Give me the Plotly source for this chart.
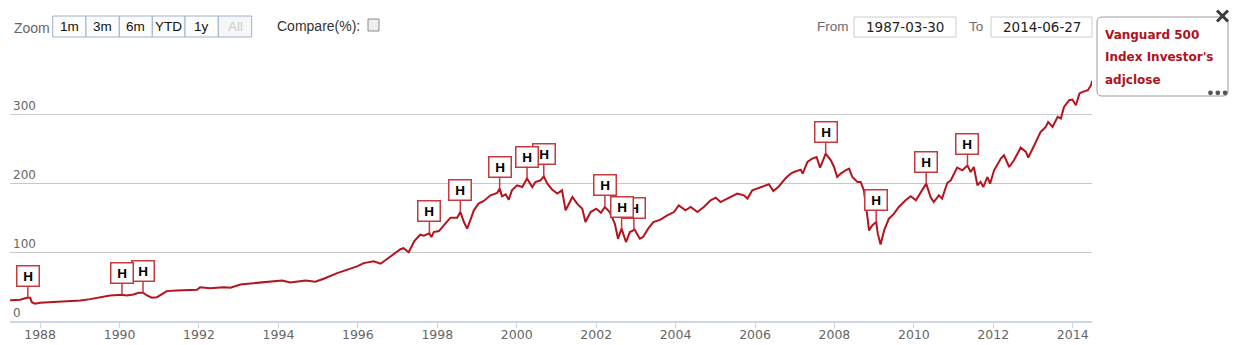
import numpy as np
import pandas as pd
import plotly.graph_objects as go

# Vanguard 500 Index Investor's adjusted close, sampled as decimal years
years = [
    1987.245, 1987.50, 1987.66, 1987.75, 1987.79, 1987.87, 1988.00, 1988.25, 1988.50, 1988.76,
    1989.01, 1989.26, 1989.51, 1989.76, 1990.06, 1990.18, 1990.35, 1990.48, 1990.59, 1990.69,
    1990.81, 1990.94, 1991.11, 1991.19, 1991.44, 1991.70, 1991.95, 1992.03, 1992.28, 1992.62,
    1992.79, 1993.04, 1993.46, 1993.80, 1994.09, 1994.30, 1994.47, 1994.68, 1994.93, 1995.14,
    1995.48, 1995.73, 1995.98, 1996.15, 1996.40, 1996.57, 1996.65, 1996.82, 1996.94, 1997.07,
    1997.15, 1997.28, 1997.42, 1997.57, 1997.66, 1997.80, 1997.85, 1997.91, 1998.04, 1998.16,
    1998.33, 1998.50, 1998.58, 1998.67, 1998.75, 1998.83, 1998.92, 1999.04, 1999.17, 1999.34,
    1999.51, 1999.57, 1999.63, 1999.72, 1999.80, 1999.88, 2000.01, 2000.14, 2000.26, 2000.39,
    2000.47, 2000.60, 2000.68, 2000.77, 2000.89, 2001.02, 2001.14, 2001.23, 2001.40, 2001.52,
    2001.65, 2001.73, 2001.86, 2002.00, 2002.12, 2002.22, 2002.34, 2002.47, 2002.55, 2002.64,
    2002.75, 2002.85, 2002.97, 2003.10, 2003.18, 2003.31, 2003.44, 2003.62, 2003.79, 2003.96,
    2004.08, 2004.25, 2004.38, 2004.55, 2004.71, 2004.88, 2005.01, 2005.13, 2005.30, 2005.55,
    2005.72, 2005.81, 2005.93, 2006.14, 2006.35, 2006.46, 2006.60, 2006.77, 2006.90, 2006.98,
    2007.15, 2007.20, 2007.32, 2007.44, 2007.55, 2007.64, 2007.78, 2007.91, 2007.99, 2008.07,
    2008.16, 2008.28, 2008.37, 2008.45, 2008.58, 2008.66, 2008.74, 2008.83, 2008.87, 2008.95,
    2009.05, 2009.09, 2009.16, 2009.25, 2009.37, 2009.50, 2009.62, 2009.79, 2009.92, 2010.05,
    2010.17, 2010.31, 2010.42, 2010.50, 2010.63, 2010.71, 2010.84, 2010.93, 2011.09, 2011.22,
    2011.35, 2011.43, 2011.51, 2011.60, 2011.68, 2011.75, 2011.85, 2011.92, 2012.02, 2012.19,
    2012.27, 2012.40, 2012.52, 2012.69, 2012.82, 2012.88, 2013.03, 2013.19, 2013.32, 2013.38,
    2013.49, 2013.62, 2013.70, 2013.78, 2013.91, 2013.99, 2014.08, 2014.17, 2014.25, 2014.38,
    2014.46, 2014.487,
]
adjclose = [
    30.0, 30.8, 33.7, 33.7, 27.3, 25.0, 26.4, 27.3, 28.3, 28.8,
    29.8, 31.7, 34.5, 37.0, 38.0, 37.0, 38.5, 41.0, 41.0, 37.0,
    33.7, 34.5, 40.4, 43.3, 44.3, 45.3, 45.2, 49.0, 47.6, 49.0,
    48.2, 53.0, 54.9, 56.9, 58.8, 55.9, 56.9, 58.8, 56.9, 61.2,
    69.4, 74.3, 79.1, 83.9, 86.4, 83.0, 86.4, 92.6, 98.4, 104.0,
    105.5, 99.6, 116.0, 125.0, 123.5, 127.0, 121.6, 128.9, 130.3, 138.6,
    149.8, 149.8, 157.9, 143.4, 133.8, 145.9, 160.4, 170.1, 173.9, 182.1,
    185.5, 191.9, 180.7, 183.6, 175.9, 189.4, 196.7, 194.2, 206.4, 194.2,
    201.5, 203.9, 209.7, 199.1, 190.4, 184.6, 189.4, 160.4, 179.7, 170.1,
    162.8, 143.4, 157.9, 162.8, 157.0, 165.2, 157.9, 141.1, 119.3, 133.8,
    114.4, 128.9, 132.4, 119.3, 121.6, 133.8, 143.4, 146.9, 153.1, 157.9,
    167.6, 160.4, 165.2, 157.9, 165.2, 174.9, 178.8, 172.4, 177.4, 184.6,
    182.1, 177.4, 189.4, 194.2, 198.1, 188.4, 195.0, 207.0, 213.6, 216.0,
    219.4, 213.6, 230.5, 235.4, 237.7, 222.3, 242.7, 232.9, 223.2, 208.7,
    213.6, 218.4, 220.9, 208.7, 201.5, 201.5, 189.4, 150.7, 131.3, 138.6,
    143.4, 126.6, 111.0, 131.3, 148.3, 155.6, 165.2, 174.9, 180.7, 174.9,
    186.9, 199.1, 179.7, 172.4, 182.1, 177.4, 200.0, 203.9, 222.3, 218.4,
    225.3, 216.0, 223.2, 196.7, 201.5, 194.2, 208.7, 199.1, 218.4, 235.4,
    240.2, 223.2, 232.9, 251.4, 245.0, 236.9, 254.7, 274.0, 281.3, 288.5,
    281.3, 295.8, 293.5, 310.3, 320.0, 321.0, 312.8, 329.8, 332.1, 334.5,
    341.8, 348.0,
]

# event flags (decimal years)
flag_years = [1987.69, 1990.06, 1990.59, 1997.80, 1998.58, 1999.57, 2000.26, 2000.68,
              2002.22, 2002.64, 2002.95, 2007.78, 2009.05, 2010.31, 2011.35]
flag_label = "H"

y_ticks = [0, 100, 200, 300, 400]
y_ticktext = ["0", "100", "200", "300", ""]
zoom_buttons = ["1m", "3m", "6m", "YTD", "1y", "All"]
date_from = "1987-03-30"
date_to = "2014-06-27"
series_name = ["Vanguard 500", "Index Investor's", "adjclose"]

LINE = "#b3141d"
FLAG = "#c53a40"
GRID = "#c8c8c8"
AXIS = "#ccd6eb"
LABEL = "#666666"
SANS = "DejaVu Sans, Verdana, sans-serif"
ARIAL = "Liberation Sans, Arial, sans-serif"

W, H = 1234, 345
ML, MR, MT, MB = 10, 142, 45, 24
PW, PH = W - ML - MR, H - MT - MB


def to_date(y):
    yr = int(y)
    start = pd.Timestamp(yr, 1, 1)
    end = pd.Timestamp(yr + 1, 1, 1)
    return start + (end - start) * (y - yr)


def PX(px):
    return (px - ML) / PW


def PY(py):
    return (H - MB - py) / PH


dates = [to_date(y) for y in years]
flag_dates = [to_date(y) for y in flag_years]
date_ns = pd.DatetimeIndex(dates).asi8


def value_at(d):
    # anchor each flag onto the drawn line
    return float(np.interp(d.value, date_ns, adjclose))


fig = go.Figure()
fig.add_trace(go.Scatter(x=dates, y=adjclose, mode="lines",
                         line=dict(color=LINE, width=2), name=" ".join(series_name),
                         hoverinfo="x+y"))

annotations = []
# flags: earlier flags drawn on top of later ones
for d in reversed(flag_dates):
    annotations.append(dict(
        x=d, y=value_at(d), xref="x", yref="y", text="<b>%s</b>" % flag_label,
        showarrow=True, arrowhead=0, arrowwidth=1.5, arrowcolor=FLAG, standoff=0,
        ax=0, ay=-22, bgcolor="white", bordercolor=FLAG, borderwidth=1.5, borderpad=1,
        width=19, height=17, font=dict(family=ARIAL, size=13.5, color="black"),
    ))

shapes = []

# range selector
annotations.append(dict(x=PX(12), y=PY(28), xref="paper", yref="paper", text="Zoom",
                        showarrow=False, xanchor="left", yanchor="middle",
                        font=dict(family=ARIAL, size=14, color=LABEL)))
edges = [52.7, 86, 119.3, 152.3, 185, 218.3, 251.7]
for i, lab in enumerate(zoom_buttons):
    x0, x1 = edges[i], edges[i + 1]
    disabled = lab == "All"
    shapes.append(dict(type="rect", xref="paper", yref="paper",
                       x0=PX(x0), x1=PX(x1), y0=PY(37), y1=PY(16),
                       line=dict(color="#9fb1cc", width=1),
                       fillcolor="#f6f6f6" if disabled else "#fdfdfd", layer="above"))
    annotations.append(dict(x=PX((x0 + x1) / 2), y=PY(26.5), xref="paper", yref="paper",
                            text=lab, showarrow=False, xanchor="center", yanchor="middle",
                            font=dict(family=ARIAL, size=13.5,
                                      color="#cccccc" if disabled else "#111111")))

annotations.append(dict(x=PX(275), y=PY(26), xref="paper", yref="paper", text="Compare(%):",
                        showarrow=False, xanchor="left", yanchor="middle",
                        font=dict(family=ARIAL, size=14, color="#333333")))
shapes.append(dict(type="rect", xref="paper", yref="paper",
                   x0=PX(368), x1=PX(379), y0=PY(31), y1=PY(19),
                   line=dict(color="#8a8a8a", width=1), fillcolor="#efefef", layer="above"))

# date inputs
annotations.append(dict(x=PX(815), y=PY(27), xref="paper", yref="paper", text="From",
                        showarrow=False, xanchor="left", yanchor="middle",
                        font=dict(family=ARIAL, size=13.5, color="#6b6b6b")))
annotations.append(dict(x=PX(967), y=PY(27), xref="paper", yref="paper", text="To",
                        showarrow=False, xanchor="left", yanchor="middle",
                        font=dict(family=ARIAL, size=13.5, color="#6b6b6b")))
for (x0, x1, txt) in [(854, 956, date_from), (991, 1092, date_to)]:
    shapes.append(dict(type="rect", xref="paper", yref="paper",
                       x0=PX(x0), x1=PX(x1), y0=PY(37), y1=PY(17),
                       line=dict(color="#cccccc", width=1), fillcolor="white", layer="above"))
    annotations.append(dict(x=PX((x0 + x1) / 2), y=PY(27), xref="paper", yref="paper",
                            text=txt, showarrow=False, xanchor="center", yanchor="middle",
                            font=dict(family=SANS, size=13.5, color="#222222")))

# legend box with rounded corners
lx0, lx1, ly0, ly1, r = 1097, 1228, 17, 96, 5
rx, ry = r / PW, r / PH
X0, X1, Yt, Yb = PX(lx0), PX(lx1), PY(ly0), PY(ly1)
path = (f"M {X0+rx},{Yt} L {X1-rx},{Yt} Q {X1},{Yt} {X1},{Yt-ry} "
        f"L {X1},{Yb+ry} Q {X1},{Yb} {X1-rx},{Yb} L {X0+rx},{Yb} "
        f"Q {X0},{Yb} {X0},{Yb+ry} L {X0},{Yt-ry} Q {X0},{Yt} {X0+rx},{Yt} Z")
shapes.append(dict(type="path", xref="paper", yref="paper", path=path,
                   line=dict(color="#9a9a9a", width=1), fillcolor="white", layer="above"))
for i, line in enumerate(series_name):
    annotations.append(dict(x=PX(1103), y=PY(35.5 + 22 * i), xref="paper", yref="paper",
                            text="<b>%s</b>" % line, showarrow=False,
                            xanchor="left", yanchor="middle",
                            font=dict(family=SANS, size=12, color="#b0121c")))
# close cross
for (a, b, c, d) in [(1217, 10.5, 1228, 21.5), (1228, 10.5, 1217, 21.5)]:
    shapes.append(dict(type="line", xref="paper", yref="paper",
                       x0=PX(a), y0=PY(b), x1=PX(c), y1=PY(d),
                       line=dict(color="#3c3c3c", width=3), layer="above"))
# menu dots
for cx in [1210.5, 1217.8, 1225.1]:
    shapes.append(dict(type="circle", xref="paper", yref="paper",
                       x0=PX(cx - 2.4), x1=PX(cx + 2.4), y0=PY(92.8 + 2.4), y1=PY(92.8 - 2.4),
                       line=dict(color="#555555", width=0), fillcolor="#555555", layer="above"))

fig.update_layout(
    width=W, height=H,
    margin=dict(l=ML, r=MR, t=MT, b=MB, pad=0, autoexpand=False),
    paper_bgcolor="white", plot_bgcolor="white",
    showlegend=False,
    annotations=annotations,
    shapes=shapes,
    xaxis=dict(
        type="date", range=[date_from, date_to], automargin=False,
        tick0="1988-01-01", dtick="M24", tickformat="%Y",
        ticks="outside", ticklen=5, tickcolor=AXIS, tickwidth=1,
        ticklabelstandoff=-4,
        showline=True, linecolor=AXIS, linewidth=2,
        showgrid=False, zeroline=False,
        tickfont=dict(family=SANS, size=12.5, color=LABEL),
        fixedrange=True,
    ),
    yaxis=dict(
        range=[0, 400], tickmode="array", tickvals=y_ticks, ticktext=y_ticktext,
        ticklabelposition="inside top", ticks="", automargin=False,
        showgrid=True, gridcolor=GRID, gridwidth=1,
        zeroline=False, showline=False,
        tickfont=dict(family=SANS, size=12, color=LABEL),
        fixedrange=True,
    ),
)

fig.write_html("out.html", config={"displayModeBar": False})
